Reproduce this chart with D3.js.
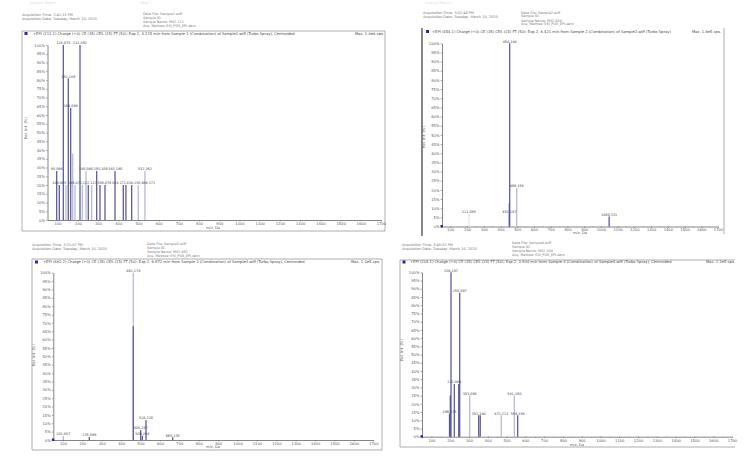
<!DOCTYPE html>
<html><head><meta charset="utf-8">
<script src="https://cdn.jsdelivr.net/npm/d3@7/dist/d3.min.js"></script>
<style>body{margin:0;background:#fff}svg{display:block}</style>
</head><body>
<svg id="c" width="754" height="456"></svg>
<script>
// ---------- data ----------
const xTickValues = [100,200,300,400,500,600,700,800,900,1000,1100,1200,1300,1400,1500,1600,1700];
const xMinorValues = [150,250,350,450,550,650,750,850,950,1050,1150,1250,1350,1450,1550,1650];
const yTickValues = [0,5,10,15,20,25,30,35,40,45,50,55,60,65,70,75,80,85,90,95,100];

// panel 1 (top-left)
const spec1Mz   = [95.5,108.4,128.2,141.5,152.9,164.8,174.7,186.0,210.8,222.0,240.5,251.8,268.7,293.4,309.7,334.5,384.0,425.0,438.0,466.5,499.0,532.0];
const spec1Int  = [28,20,100,20,81,64,38,20,100,20,28,20,20,28,20,20,28,20,20,20,20,28];
const spec1Tone = ['d','d','d','l','d','d','l','l','d','l','l','d','l','d','d','d','d','d','d','d','l','l'];
const spec1Lbl  = ['95.086','109.065','128.070','','152.106','164.089','','186.071','211.092','222.113','240.085','','','293.109','309.079','334.171','383.180','','438.150','466.171','','532.162'];

// panel 2 (top-right)
const spec2Mz   = [211.0,452.3,452.5,454.7,496.6,1049.3];
const spec2Int  = [7,7,12.7,100,21,5.4];
const spec2Tone = ['p','l','d','d','l','d'];
const spec2Lbl  = ['211.095','452.187','','454.148','496.158','1049.331'];

// panel 3 (bottom-left)
const spec3Mz   = [101.6,235.6,462.5,462.3,500.6,509.0,528.0,665.6];
const spec3Int  = [2.4,1.8,100,68,6,2.5,12,1.6];
const spec3Tone = ['l','d','l','d','d','d','d','d'];
const spec3Lbl  = ['101.057','235.096','462.174','','500.287','509.264','528.220','665.135'];

// panel 4 (bottom-right)
const spec4Mz   = [196.4,200.6,204.4,222.0,245.4,250.7,303.9,351.8,360.0,472.0,541.3,559.5];
const spec4Int  = [14,25,100,32,32,87.5,25,13,13,13,25,13];
const spec4Tone = ['d','d','d','d','d','d','l','d','d','l','l','d'];
const spec4Lbl  = ['196.075','','204.107','222.080','','250.097','303.090','351.180','','472.213','541.160','559.158'];

const headerLeft = [
  ["Acquisition Time: 2:41:15 PM","Acquisition Date: Tuesday, March 10, 2020"],
  ["Acquisition Time: 3:02:48 PM","Acquisition Date: Tuesday, March 10, 2020"],
  ["Acquisition Time: 3:21:07 PM","Acquisition Date: Tuesday, March 10, 2020"],
  ["Acquisition Time: 3:40:52 PM","Acquisition Date: Tuesday, March 10, 2020"]
];
const headerRight = [
  ["Data File: Sample1.wiff","Sample ID:","Sample Name: MS2 211","Acq. Method: ESI_POS_EPI.dam"],
  ["Data File: Sample2.wiff","Sample ID:","Sample Name: MS2 454","Acq. Method: ESI_POS_EPI.dam"],
  ["Data File: Sample3.wiff","Sample ID:","Sample Name: MS2 462","Acq. Method: ESI_POS_EPI.dam"],
  ["Data File: Sample4.wiff","Sample ID:","Sample Name: MS2 204","Acq. Method: ESI_POS_EPI.dam"]
];
const titles = [
  "+EPI (211.1) Charge (+0) CE (35) CES (15) FT (50): Exp 2, 4.215 min from Sample 1 (Combination) of Sample1.wiff (Turbo Spray), Centroided",
  "+EPI (454.1) Charge (+0) CE (35) CES (15) FT (50): Exp 2, 6.421 min from Sample 2 (Combination) of Sample2.wiff (Turbo Spray)",
  "+EPI (462.2) Charge (+0) CE (35) CES (15) FT (50): Exp 2, 6.872 min from Sample 3 (Combination) of Sample3.wiff (Turbo Spray), Centroided",
  "+EPI (204.1) Charge (+0) CE (35) CES (15) FT (50): Exp 2, 3.904 min from Sample 4 (Combination) of Sample4.wiff (Turbo Spray), Centroided"
];
const maxTexts = ["Max. 1.0e6 cps.","Max. 1.6e5 cps.","Max. 1.1e5 cps.","Max. 1.1e5 cps."];

// ---------- drawing ----------
const svg = d3.select('#c');
const FONT = 'DejaVu Sans, sans-serif';
const toneColor = {d:'#56569c', l:'#b6b8dc', p:'#e4e4f2'};

const panels = [
  {mz:spec1Mz,it:spec1Int,tone:spec1Tone,lbl:spec1Lbl, ax0:47.5, ax1:381, yTop:45, yBot:220,
   lines:[[22,31,385,31],[22,31,22,231],[22,231,385,231],[385,31,385,231]],
   sq:[24.5,32], titleX:33, titleY:34.6, maxX:384, hl:[22,15.5], hr:[143,15], yLab:[27,128], mzLab:[213,228.6], origin:false},
  {mz:spec2Mz,it:spec2Int,tone:spec2Tone,lbl:spec2Lbl, ax0:442, ax1:718, yTop:43.3, yBot:226.5,
   lines:[[724,28,724,234]], thick:[422,28,422,236],
   sq:[426,30], titleX:432, titleY:32.6, maxX:721, hl:[423,14.3], hr:[521,13.5], yLab:[425,137], mzLab:[580,234], origin:true},
  {mz:spec3Mz,it:spec3Int,tone:spec3Tone,lbl:spec3Lbl, ax0:53.3, ax1:373.3, yTop:272.7, yBot:440,
   lines:[[32,259,382,259],[32,259,32,450],[32,450,382,450],[382,259,382,450]],
   sq:[35,260.5], titleX:43, titleY:263.2, maxX:380, hl:[32,246], hr:[147,245], yLab:[35,355], mzLab:[213,448], origin:true},
  {mz:spec4Mz,it:spec4Int,tone:spec4Tone,lbl:spec4Lbl, ax0:422, ax1:732, yTop:272.3, yBot:436.7,
   lines:[[400,260,735,260],[400,260,400,447],[400,447,735,447]],
   sq:[402.5,260.5], titleX:410, titleY:263.2, maxX:735, hl:[402,246], hr:[512,244], yLab:[403,350], mzLab:[577,445.6], origin:true}
];

// faint page headers at very top
[[30,"Analyst Report"],[140,"Page 1"],[425,"Analyst Report"]].forEach(([x,t])=>{
  svg.append('text').attr('x',x).attr('y',4).attr('font-family',FONT).attr('font-size',3.6).attr('fill','#ddd').text(t);
});

panels.forEach((p,i)=>{
  const g = svg.append('g');
  const x = d3.scaleLinear().domain([50,1700]).range([p.ax0,p.ax1]);
  const y = d3.scaleLinear().domain([0,100]).range([p.yBot,p.yTop]);

  // headers
  headerLeft[i].forEach((t,k)=>g.append('text').attr('x',p.hl[0]).attr('y',p.hl[1]+k*4)
    .attr('font-family',FONT).attr('font-size',3.5).attr('fill','#777').text(t));
  const off=[0,3.5,8,11.5];
  headerRight[i].forEach((t,k)=>g.append('text').attr('x',p.hr[0]).attr('y',p.hr[1]+off[k])
    .attr('font-family',FONT).attr('font-size',3.4).attr('fill','#777').text(t));

  // frame
  p.lines.forEach(l=>g.append('line').attr('x1',l[0]).attr('y1',l[1]).attr('x2',l[2]).attr('y2',l[3])
    .attr('stroke','#9a9a9a').attr('stroke-width',0.8));
  if(p.thick) g.append('line').attr('x1',p.thick[0]).attr('y1',p.thick[1]).attr('x2',p.thick[2]).attr('y2',p.thick[3])
    .attr('stroke','#555').attr('stroke-width',1.4);

  // title row
  g.append('rect').attr('x',p.sq[0]).attr('y',p.sq[1]).attr('width',3).attr('height',3).attr('fill','#2a2aa0');
  g.append('text').attr('x',p.titleX).attr('y',p.titleY).attr('font-family',FONT).attr('font-size',3.7)
    .attr('fill','#444').text(titles[i]);
  g.append('text').attr('x',p.maxX).attr('y',p.titleY).attr('text-anchor','end').attr('font-family',FONT)
    .attr('font-size',3.7).attr('fill','#444').text(maxTexts[i]);

  // axes
  const xa = g.append('g').attr('transform',`translate(0,${p.yBot})`)
    .call(d3.axisBottom(x).tickValues(xTickValues).tickSize(1.4).tickSizeOuter(0).tickPadding(0.8).tickFormat(d3.format('d')));
  g.append('g').attr('transform',`translate(0,${p.yBot})`)
    .call(d3.axisBottom(x).tickValues(xMinorValues).tickSize(0.8).tickSizeOuter(0).tickFormat(''))
    .call(a=>a.select('.domain').remove())
    .selectAll('line').attr('stroke','#777').attr('stroke-width',0.5);
  const ya = g.append('g').attr('transform',`translate(${p.ax0},0)`)
    .call(d3.axisLeft(y).tickValues(yTickValues).tickSize(1.4).tickSizeOuter(0).tickPadding(1.2).tickFormat(d=>d+'%'));
  [xa,ya].forEach(a=>{
    a.selectAll('text').attr('font-family',FONT).attr('font-size',3.7).attr('fill','#555');
    a.selectAll('line').attr('stroke','#666').attr('stroke-width',0.6);
    a.select('.domain').attr('stroke','#666').attr('stroke-width',0.8);
  });
  // axis titles
  g.append('text').attr('x',p.mzLab[0]).attr('y',p.mzLab[1]).attr('text-anchor','middle')
    .attr('font-family',FONT).attr('font-size',3.7).attr('fill','#555').text('m/z, Da');
  g.append('text').attr('transform',`translate(${p.yLab[0]},${p.yLab[1]}) rotate(-90)`).attr('text-anchor','middle')
    .attr('font-family',FONT).attr('font-size',3.7).attr('fill','#555').text('Rel. Int. (%)');

  // peaks
  const rows = p.mz.map((m,k)=>({m, v:p.it[k], t:p.tone[k], l:p.lbl[k]}));
  g.append('g').selectAll('line').data(rows).join('line')
    .attr('x1',d=>x(d.m)).attr('x2',d=>x(d.m)).attr('y1',y(0)).attr('y2',d=>y(d.v))
    .attr('stroke',d=>toneColor[d.t]).attr('stroke-width',1.25);
  const lab = g.append('g').selectAll('text').data(rows.filter(d=>d.l).sort((a,b)=>a.m-b.m)).join('text')
    .attr('x',d=>x(d.m)).attr('y',d=>y(d.v)-0.6).attr('text-anchor','middle')
    .attr('font-family',FONT).attr('font-size',3.4).attr('fill','#444').text(d=>d.l);

  // simple collision avoidance: push a label right until it clears earlier ones
  const placed = [];
  lab.each(function(){
    const b = this.getBBox();
    let x0 = b.x, x1 = b.x + b.width;
    const y0 = b.y, y1 = b.y + b.height;
    let moved = true;
    while(moved){
      moved = false;
      for(const q of placed){
        if(y0 < q.y1 && y1 > q.y0 && x0 < q.x1 + 0.6 && x1 > q.x0 - 0.6){
          const dx = q.x1 + 0.6 - x0;
          x0 += dx; x1 += dx; moved = true;
        }
      }
    }
    this.setAttribute('x', (x0 + x1) / 2);
    placed.push({x0,x1,y0,y1});
  });

  if(p.origin) g.append('rect').attr('x',p.ax0-1.5).attr('y',p.yBot-1.5).attr('width',2.5).attr('height',2.5).attr('fill','#2a2aa0');
});
</script>
</body></html>
